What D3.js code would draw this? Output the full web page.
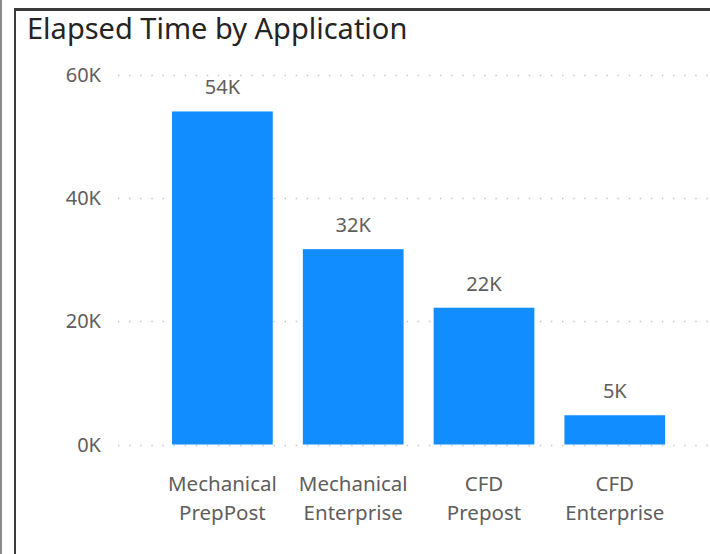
<!DOCTYPE html>
<html>
<head>
<meta charset="utf-8">
<script src="https://cdn.jsdelivr.net/npm/d3@7"></script>
<style>
  html, body { margin: 0; padding: 0; background: #fff; }
  svg { display: block; }
  text { font-family: "Noto Sans", "Open Sans", sans-serif; }
</style>
</head>
<body>
<script>
// ---- Data ----
const title = "Elapsed Time by Application";
const categories = [["Mechanical", "PrepPost"], ["Mechanical", "Enterprise"], ["CFD", "Prepost"], ["CFD", "Enterprise"]];
const values = [54050, 31700, 22200, 4750];
const yTicks = [0, 20000, 40000, 60000];
const yTickLabels = ["0K", "20K", "40K", "60K"];

// ---- Layout ----
const W = 710, H = 554;
const svg = d3.select("body").append("svg").attr("width", W).attr("height", H);

// frame
svg.append("line").attr("x1", 1).attr("x2", 1).attr("y1", 0).attr("y2", H)
  .attr("stroke", "#8a8a8a").attr("stroke-width", 2);
svg.append("line").attr("x1", 15).attr("x2", 15).attr("y1", 8).attr("y2", H)
  .attr("stroke", "#3a3a3a").attr("stroke-width", 2);
svg.append("line").attr("x1", 14).attr("x2", W).attr("y1", 9.5).attr("y2", 9.5)
  .attr("stroke", "#3a3a3a").attr("stroke-width", 3);

// title
svg.append("text").attr("x", 27).attr("y", 39)
  .attr("font-size", 29).attr("fill", "#252423").text(title);

const y = d3.scaleLinear().domain([0, 60000]).range([444.5, 74.8]);
const x = d3.scaleBand().domain(d3.range(categories.length))
  .range([157, 680.2]).paddingInner(0.23).paddingOuter(0.115);

// gridlines
svg.append("g").selectAll("line").data(yTicks).join("line")
  .attr("x1", 118).attr("x2", 708)
  .attr("y1", d => Math.round(y(d)) + 0.5).attr("y2", d => Math.round(y(d)) + 0.5)
  .attr("stroke", "#c8c6c4").attr("stroke-width", 1.5).attr("stroke-dasharray", "1.5,9.6");

// y labels
svg.append("g").selectAll("text").data(yTicks).join("text")
  .attr("x", 101).attr("y", d => y(d)).attr("dy", "0.36em")
  .attr("text-anchor", "end").attr("font-size", 20).attr("fill", "#605e5c")
  .text((d, i) => yTickLabels[i]);

// bars
svg.append("g").selectAll("rect").data(values).join("rect")
  .attr("x", (d, i) => x(i)).attr("width", x.bandwidth())
  .attr("y", d => y(d)).attr("height", d => y(0) - y(d))
  .attr("fill", "#118dff");

// data labels
const fmt = d => Math.round(d / 1000) + "K";
svg.append("g").selectAll("text").data(values).join("text")
  .attr("x", (d, i) => x(i) + x.bandwidth() / 2).attr("y", d => y(d) - 17)
  .attr("text-anchor", "middle").attr("font-size", 20).attr("fill", "#605e5c")
  .text(fmt);

// x labels
const xl = svg.append("g").selectAll("text").data(categories).join("text")
  .attr("text-anchor", "middle").attr("font-size", 20.5).attr("fill", "#605e5c");
xl.selectAll("tspan").data((d, i) => d.map(s => ({ s, i }))).join("tspan")
  .attr("x", d => x(d.i) + x.bandwidth() / 2)
  .attr("y", (d, j) => 491 + j * 28.5)
  .text(d => d.s);
</script>
</body>
</html>
